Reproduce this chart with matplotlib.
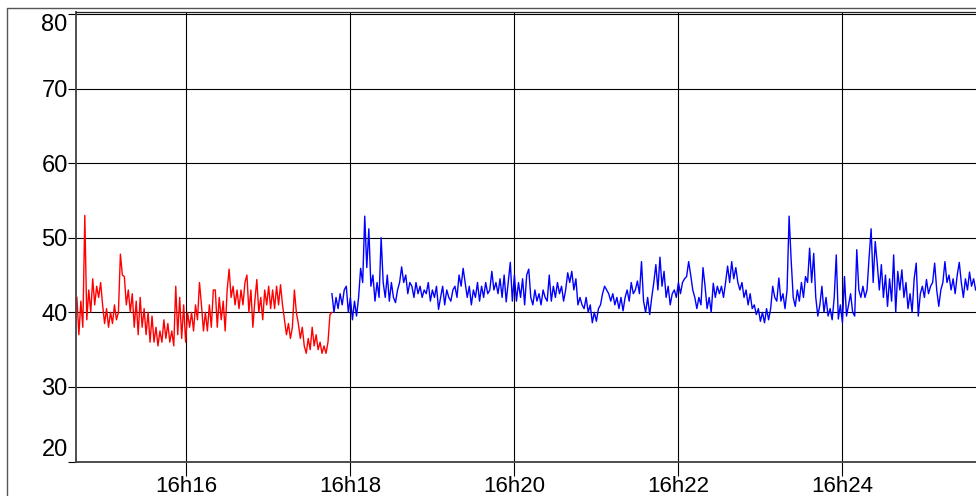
import numpy as np
import matplotlib.pyplot as plt
from matplotlib.lines import Line2D
from matplotlib.ticker import FuncFormatter, MultipleLocator

plt.rcParams['font.family'] = ['Liberation Sans', 'DejaVu Sans']

# minutes after 16:00
red_start, red_end = 14.67, 17.78
blue_end = 25.63

red_vals = [42, 37, 41.5, 38, 53,
            39, 43, 40, 44.5, 41, 43.5, 42, 44, 41,
            38.5, 40.5, 38, 40, 38.5, 41, 39,
            40, 47.8, 45, 44.8, 41,
            43, 40, 42.5, 38, 41.5, 37, 42, 38, 40.5,
            37, 40, 36, 39.5, 36, 38, 35.5, 37.5, 36, 39, 36.5, 38.5, 36, 37.5, 35.5,
            43.5, 37, 42, 36.5, 41, 36, 40, 38,
            40, 37.5, 41, 39, 44, 41, 37.5, 40,
            37.5, 41, 38, 43,
            43, 38, 42, 39, 41.5, 37.5,
            43, 45.8,
            42, 43.5, 41, 43, 40.5, 43, 41, 44,
            45, 40, 43, 38, 41.5, 44.4,
            40, 42, 39, 43, 41, 43.5, 40.5,
            43, 40.5, 43.5, 41, 43.7, 41,
            39, 37, 38.5, 36.5, 38, 43,
            40, 38.5, 36.5, 38, 35.5,
            34.5, 36.5, 35, 38, 35.5, 37, 35, 36,
            34.5, 35.5, 34.5, 36,
            39.7, 40]

blue_vals = [42.5, 40, 42, 40.5, 42.5, 41, 43, 43.5,
             40, 42, 39, 41.5, 39.5,
             42, 45.9,
             44, 52.9, 46, 51.2,
             43.5, 45, 41.5, 44, 42, 50,
             44, 42, 45, 41.5, 44, 42, 41.3,
             43, 44, 46.1, 44, 45, 42.5, 44,
             43.5, 42, 44, 42.5, 43.5, 42, 43, 42.5, 44, 41.5,
             43, 42, 43.5, 40.4, 42, 43.5, 41, 43, 42, 41.5, 43,
             43.5, 42, 45, 43.5, 45.9, 44,
             42, 43.5, 41, 43, 42, 44, 41.5, 43.5, 42, 44, 42.5, 43,
             45.5, 43, 44, 42.5, 44.5, 42, 45, 41.4, 44, 46.7, 41.5,
             45, 41.5, 44, 42, 44.5, 41, 45, 45.8,
             42, 41, 43, 41.5, 42.5, 41, 43, 42, 41.5, 45,
             41.5, 43.5, 42, 44, 42.5, 43.5, 41.5, 43,
             45.3, 44, 45.5, 43, 44.5, 41,
             42, 41, 40.5, 42, 40, 41,
             38.6, 40, 38.8, 40.5,
             41, 42.5, 43.5, 43,
             42.5, 41.5, 42.5, 41, 42, 40.5, 42, 40.2,
             42, 43, 41.5, 44, 42.5, 43, 44.2, 42.5,
             46.8,
             41.5, 40, 42, 39.7, 42,
             44, 46.4, 43, 47.4, 43.5, 45.5,
             42, 43.5, 41, 42.5, 43,
             42, 44, 42.5, 44, 44.5,
             44.8, 46.8, 45, 43,
             42, 40.5, 42, 41,
             46, 43.5,
             40.5, 42, 40,
             43.9, 42, 43.5, 42.5, 43.5, 42,
             44, 46.2, 44, 46.8, 44.5, 46, 44, 43,
             44, 42, 43, 41, 42.5, 40.5, 41,
             39.7, 40.5, 38.8, 40, 38.6, 40.5, 39,
             40.5, 43.5, 42, 41.5, 44.6,
             41.5, 42.5, 40.5, 43,
             52.9, 47,
             42, 40.8, 43, 41.5, 44, 42, 44.8,
             44, 48.6, 44, 47.9,
             42, 39.5, 41, 43.5, 40, 42, 39.5,
             40.5, 39, 42,
             47.7,
             39.1, 41, 38.6,
             44.8,
             39.5, 41, 42.5, 40, 39.5,
             48.4,
             43, 42, 43.5, 42, 43,
             47.3, 51.2, 44, 49.5, 46.5,
             43, 46.4, 42, 45, 40.8, 44.5, 41.5,
             47.7, 40, 45.5, 43, 45.7,
             42, 44, 40.5, 42.5, 40, 44.5, 46.6, 39.5,
             42.5, 43.5, 42, 44.4, 42.5, 43.5, 44, 46.6,
             43, 40.8, 43, 44, 46.8,
             44, 45, 43, 44.5, 42.5, 45, 46.7, 44,
             42, 44.5, 43, 45.4, 43.5, 44.5, 43]

red_t = np.linspace(red_start, red_end, len(red_vals))
blue_t = np.linspace(red_end, blue_end, len(blue_vals))

fig = plt.figure(figsize=(9.76, 4.96), dpi=100)
ax = fig.add_axes([76 / 976, 1 - 461.5 / 496, 1 - 76 / 976, (461.5 - 12) / 496])

ax.plot(red_t, red_vals, color='#ff0000', lw=1.0)
ax.plot(blue_t, blue_vals, color='#0000ff', lw=1.0)

ax.set_xlim(14.659, 25.634)
ax.set_ylim(20, 80.27)
ax.xaxis.set_major_locator(MultipleLocator(2))
ax.xaxis.set_major_formatter(FuncFormatter(lambda v, p: f"16h{int(round(v)):02d}"))
ax.yaxis.set_major_locator(MultipleLocator(10))
ax.grid(True, color='black', lw=0.8)

ax.tick_params(axis='x', length=10, width=0.8, pad=0.5, labelsize=16)
ax.tick_params(axis='y', length=5.5, width=0.8, pad=0.5, labelsize=17)

# keep the end labels inside the frame
fig.canvas.draw()
for lab in ax.get_yticklabels():
    if lab.get_text() == '80':
        lab.set_va('top')
    elif lab.get_text() == '20':
        lab.set_va('bottom')

for s in ['left', 'bottom']:
    ax.spines[s].set_color('#404040')
    ax.spines[s].set_linewidth(1.3)
ax.spines['top'].set_color('#202020')
ax.spines['top'].set_linewidth(0.9)
ax.spines['right'].set_visible(False)

# outer frame
fx, fy = 7 / 976, 1 - 8 / 496
fig.add_artist(Line2D([fx, fx, 1.0], [0, fy, fy], transform=fig.transFigure,
                      color='#555555', lw=1.0))

fig.savefig('out.png', dpi=100)
